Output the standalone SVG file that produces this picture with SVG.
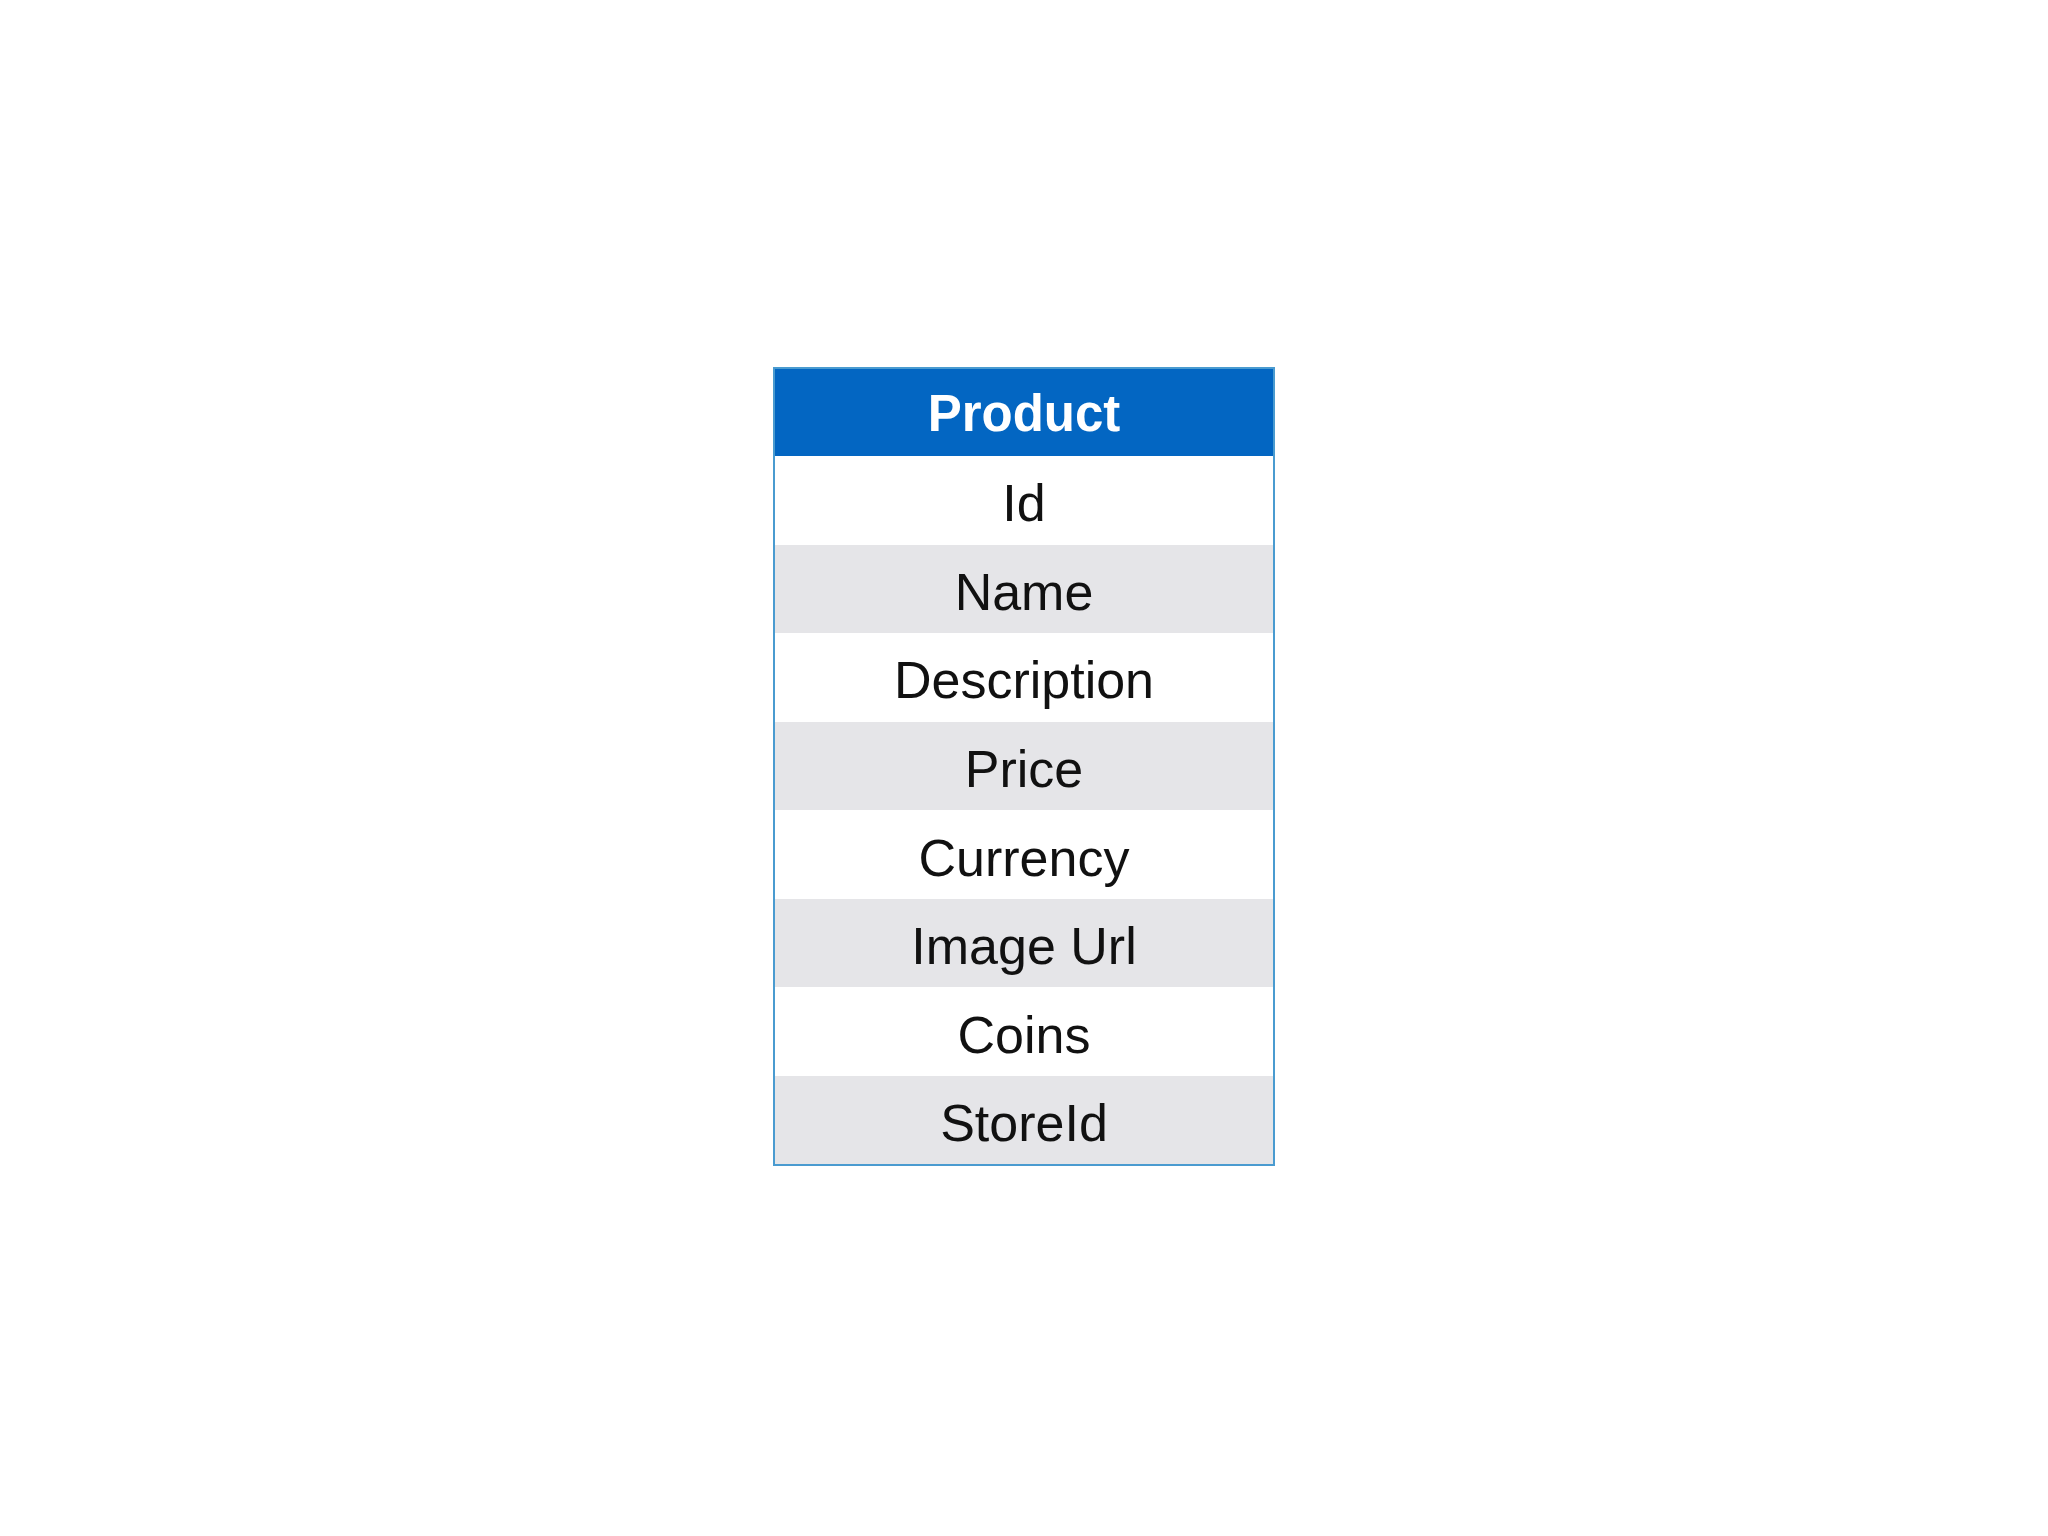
<svg xmlns="http://www.w3.org/2000/svg" width="2048" height="1536" viewBox="0 0 2048 1536">
<style>
.hdr{fill:#0366C2}
.w{fill:#FFFFFF}
.g{fill:#E5E5E8}
.t{font-family:"Liberation Sans",Arial,sans-serif;font-size:52px;fill:#111111;text-anchor:middle}
.h{font-family:"Liberation Sans",Arial,sans-serif;font-size:51px;font-weight:bold;fill:#FFFFFF;text-anchor:middle}
</style>
<rect width="2048" height="1536" fill="#FFFFFF"/>
<g id="product-table">
<g id="header"><rect class="hdr" x="774" y="368" width="500" height="88"/><text class="h" x="1024" y="431">Product</text></g>
<g id="row-id"><rect class="w" x="774" y="456" width="500" height="89"/><text class="t" x="1024" y="521">Id</text></g>
<g id="row-name"><rect class="g" x="774" y="545" width="500" height="88"/><text class="t" x="1024" y="610">Name</text></g>
<g id="row-description"><rect class="w" x="774" y="633" width="500" height="89"/><text class="t" x="1024" y="698">Description</text></g>
<g id="row-price"><rect class="g" x="774" y="722" width="500" height="88"/><text class="t" x="1024" y="787">Price</text></g>
<g id="row-currency"><rect class="w" x="774" y="810" width="500" height="89"/><text class="t" x="1024" y="876">Currency</text></g>
<g id="row-imageurl"><rect class="g" x="774" y="899" width="500" height="88"/><text class="t" x="1024" y="964">Image Url</text></g>
<g id="row-coins"><rect class="w" x="774" y="987" width="500" height="89"/><text class="t" x="1024" y="1053">Coins</text></g>
<g id="row-storeid"><rect class="g" x="774" y="1076" width="500" height="89"/><text class="t" x="1024" y="1141">StoreId</text></g>
<rect x="774" y="368" width="500" height="797" fill="none" stroke="#4A9BD0" stroke-width="2"/>
</g>
</svg>
